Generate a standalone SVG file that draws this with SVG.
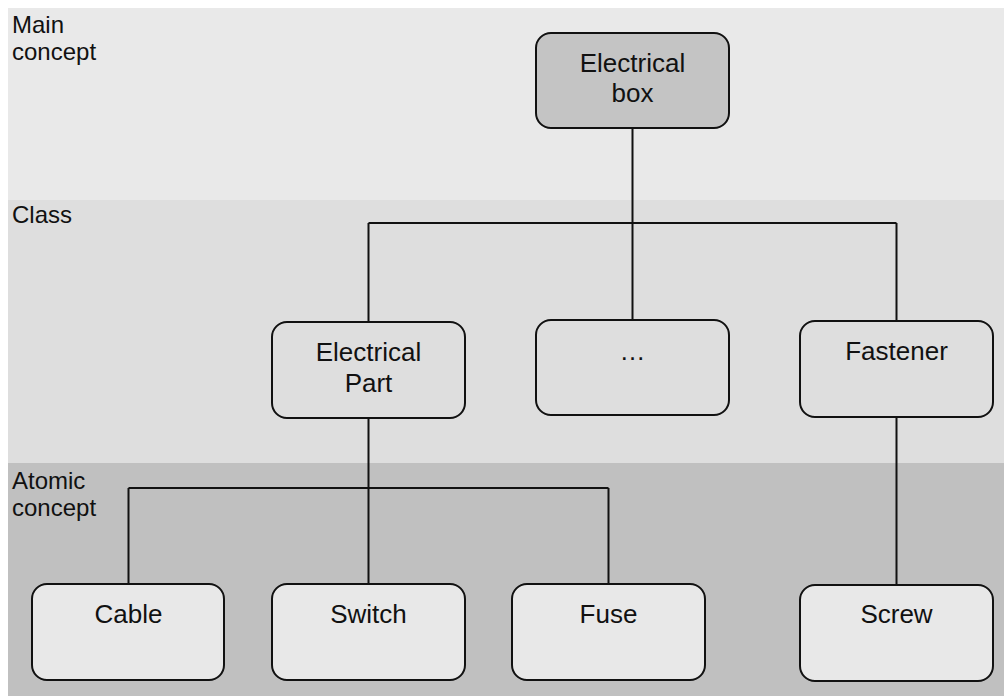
<svg xmlns="http://www.w3.org/2000/svg" width="1004" height="696" viewBox="0 0 1004 696">
<style>
.band-label{font-family:"Liberation Sans",Arial,sans-serif;font-size:24px;fill:#111}
.node rect{stroke:#111;stroke-width:2}
.node text{font-family:"Liberation Sans",Arial,sans-serif;font-size:26px;fill:#111;text-anchor:middle}
.conn{fill:none;stroke:#111;stroke-width:2}
</style>
<rect x="0" y="0" width="1004" height="696" fill="#ffffff"/>
<rect x="8" y="8" width="996" height="192" fill="#e9e9e9"/>
<rect x="8" y="200" width="996" height="263" fill="#dedede"/>
<rect x="8" y="463" width="996" height="233" fill="#c0c0c0"/>
<text class="band-label" x="12" y="33">Main</text>
<text class="band-label" x="12" y="60">concept</text>
<text class="band-label" x="12" y="223">Class</text>
<text class="band-label" x="12" y="489">Atomic</text>
<text class="band-label" x="12" y="516">concept</text>
<g id="connectors" class="conn">
<path d="M632.5 128V223M368.5 223H896.5M368.5 223V322M632.5 223V320M896.5 223V321"/>
<path d="M368.5 418V584M128.5 488H608.5M128.5 488V584M608.5 488V584"/>
<path d="M896.5 417V585"/>
</g>
<g id="electrical-box" class="node"><rect x="536" y="33" width="193" height="95" rx="15" fill="#c4c4c4"/><text x="632.5" y="72">Electrical</text><text x="632.5" y="102">box</text></g>
<g id="electrical-part" class="node"><rect x="272" y="322" width="193" height="96" rx="15" fill="#dedede"/><text x="368.5" y="361">Electrical</text><text x="368.5" y="392">Part</text></g>
<g id="ellipsis" class="node"><rect x="536" y="320" width="193" height="95" rx="15" fill="#dedede"/><text x="632.5" y="360">…</text></g>
<g id="fastener" class="node"><rect x="800" y="321" width="193" height="96" rx="15" fill="#dedede"/><text x="896.5" y="360">Fastener</text></g>
<g id="cable" class="node"><rect x="32" y="584" width="192" height="96" rx="15" fill="#e8e8e8"/><text x="128.5" y="623">Cable</text></g>
<g id="switch" class="node"><rect x="272" y="584" width="193" height="96" rx="15" fill="#e8e8e8"/><text x="368.5" y="623">Switch</text></g>
<g id="fuse" class="node"><rect x="512" y="584" width="193" height="96" rx="15" fill="#e8e8e8"/><text x="608.5" y="623">Fuse</text></g>
<g id="screw" class="node"><rect x="800" y="585" width="193" height="96" rx="15" fill="#e8e8e8"/><text x="896.5" y="623">Screw</text></g>
</svg>
